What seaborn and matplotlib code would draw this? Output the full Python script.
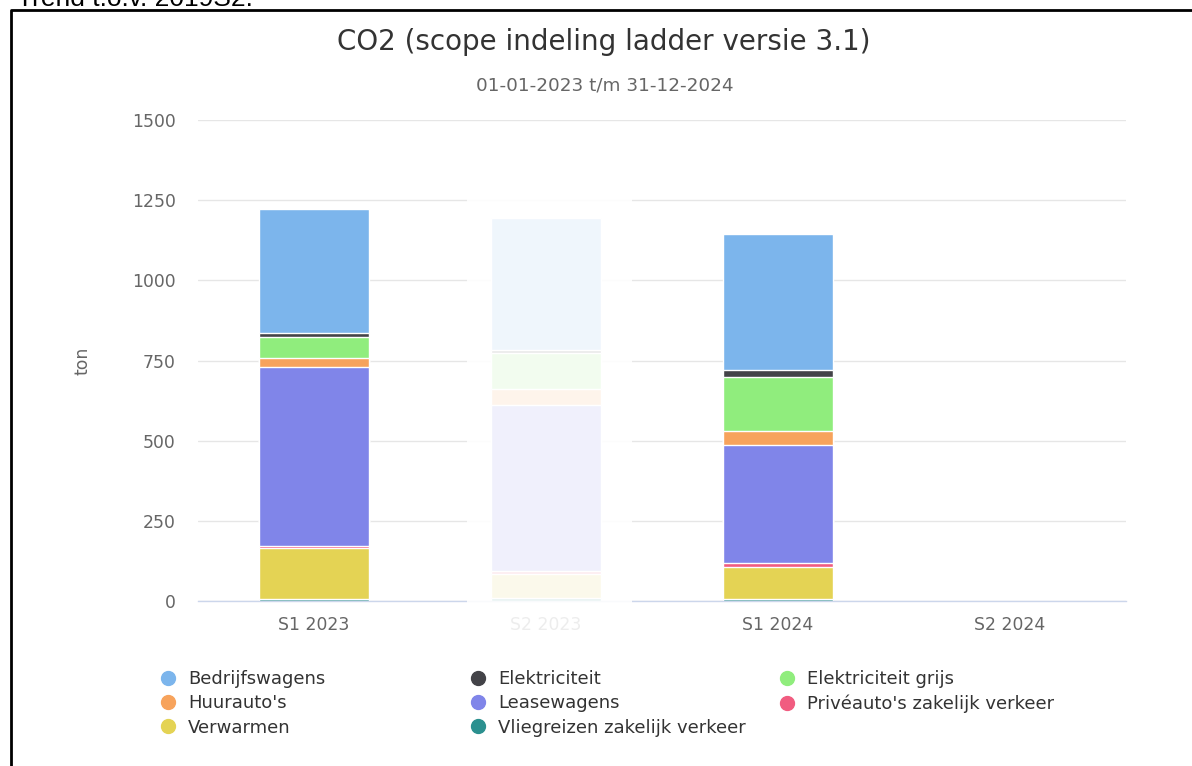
import matplotlib
matplotlib.use('Agg')
import numpy as np
import matplotlib.pyplot as plt
import seaborn as sns
from matplotlib.lines import Line2D
from matplotlib.patches import Rectangle

# Periods on the x axis
periods = ['S1 2023', 'S2 2023', 'S1 2024', 'S2 2024']

# CO2 per source (ton), listed from bottom of the stack to the top
vliegreizen = [7, 8, 5, 0]
verwarmen = [157, 76, 100, 0]
priveautos = [7, 8, 15, 0]
leasewagens = [558, 519, 367, 0]
huurautos = [30, 49, 42, 0]
elektriciteit_grijs = [64, 112, 168, 0]
elektriciteit = [13, 12, 23, 0]
bedrijfswagens = [386, 411, 423, 0]

yticks = [0, 250, 500, 750, 1000, 1250, 1500]

stack = [
    ("Vliegreizen zakelijk verkeer", vliegreizen, '#2b908f'),
    ("Verwarmen", verwarmen, '#e4d354'),
    ("Privéauto's zakelijk verkeer", priveautos, '#f15c80'),
    ("Leasewagens", leasewagens, '#8085e9'),
    ("Huurauto's", huurautos, '#f7a35c'),
    ("Elektriciteit grijs", elektriciteit_grijs, '#90ed7d'),
    ("Elektriciteit", elektriciteit, '#434348'),
    ("Bedrijfswagens", bedrijfswagens, '#7cb5ec'),
]

sns.set_style("white")
plt.rcParams['font.family'] = ['DejaVu Sans']

fig = plt.figure(figsize=(11.92, 7.66), dpi=100)
ax = fig.add_axes([198 / 1192, 1 - 601 / 766, 928 / 1192, 481 / 766])

# cumulative tops, drawn from the tallest down so each segment shows
tops = np.cumsum([s[1] for s in stack], axis=0)
for i in range(len(stack) - 1, -1, -1):
    sns.barplot(x=periods, y=tops[i], color=stack[i][2], ax=ax, width=0.474,
                edgecolor='white', linewidth=1, saturation=1)

ax.set_ylim(0, 1500)
ax.set_xlim(-0.5, 3.5)
ax.set_yticks(yticks)
ax.set_yticklabels([str(t) for t in yticks])
ax.yaxis.grid(True, color='#e6e6e6', linewidth=1)
ax.set_axisbelow(True)
for side in ['top', 'right', 'left']:
    ax.spines[side].set_visible(False)
ax.spines['bottom'].set_color('#ccd6eb')
ax.spines['bottom'].set_linewidth(1)
ax.tick_params(axis='y', length=0, pad=16, labelsize=12.4, labelcolor='#666666')
ax.tick_params(axis='x', length=0, pad=11, labelsize=12.4, labelcolor='#666666')
ax.set_ylabel('ton', fontsize=12.4, color='#666666', labelpad=29)
ax.set_xlabel('')

# S2 2023 is shown faded (inactive state)
ax.add_patch(Rectangle((0.66, -15), 0.71, 1280, facecolor='white', alpha=0.885,
                       edgecolor='none', zorder=5, clip_on=False))
ax.get_xticklabels()[1].set_color('#ededed')

fig.text(604 / 1192, 1 - 42 / 766, 'CO2 (scope indeling ladder versie 3.1)', ha='center',
         va='center', fontsize=20, color='#333333')
fig.text(605 / 1192, 1 - 85 / 766, '01-01-2023 t/m 31-12-2024', ha='center', va='center',
         fontsize=13.2, color='#666666')

# legend in three columns, filled row by row
order = ["Bedrijfswagens", "Elektriciteit", "Elektriciteit grijs",
         "Huurauto's", "Leasewagens", "Privéauto's zakelijk verkeer",
         "Verwarmen", "Vliegreizen zakelijk verkeer"]
colors = {s[0]: s[2] for s in stack}
col_x = [159, 469, 778]
for c in range(3):
    names = order[c::3]
    handles = [Line2D([], [], marker='o', linestyle='', markersize=10,
                      markerfacecolor=colors[n], markeredgecolor=colors[n]) for n in names]
    fig.legend(handles, names, loc='upper left', bbox_to_anchor=(col_x[c] / 1192, 1 - 670 / 766),
               frameon=False, fontsize=13, handlelength=1, handletextpad=0.6,
               labelspacing=0.35, borderpad=0, borderaxespad=0, labelcolor='#333333')

# page decoration: cut-off heading and frame
fig.text(17 / 1192, 1 - 6 / 766, 'Trend t.o.v. 2019S2:', ha='left', va='baseline',
         fontsize=19, color='black', family=['Liberation Sans', 'DejaVu Sans'])
fig.add_artist(Line2D([11 / 1192, 11 / 1192, 1], [0, 1 - 10 / 766, 1 - 10 / 766],
                      color='black', linewidth=2, transform=fig.transFigure))

plt.savefig('out.png', dpi=100)
plt.close()
